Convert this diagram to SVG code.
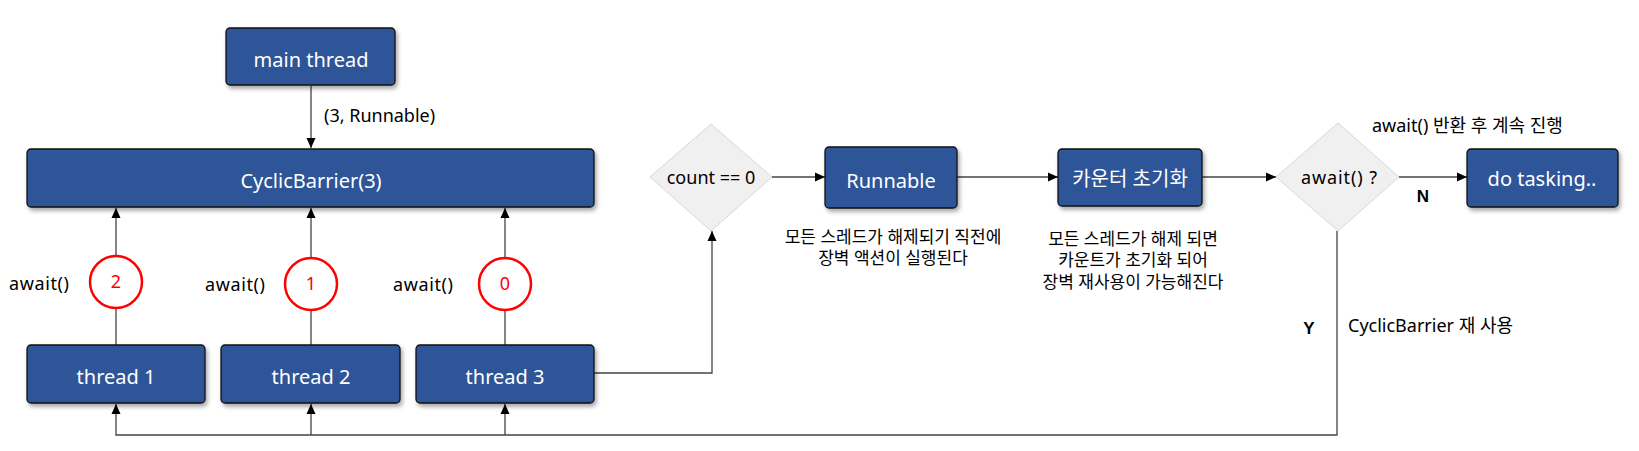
<svg xmlns="http://www.w3.org/2000/svg" width="1639" height="451" viewBox="0 0 1639 451">
<defs>
<marker id="arrow" markerUnits="userSpaceOnUse" markerWidth="10" markerHeight="10" refX="10" refY="5" orient="auto">
<path d="M0,0.5 L10,5 L0,9.5 z" fill="#000"/>
</marker>
<filter id="shadow" x="-10%" y="-20%" width="130%" height="160%">
<feDropShadow dx="2" dy="3" stdDeviation="2" flood-color="#000" flood-opacity="0.35"/>
</filter>
<style>
.box{fill:#2f5597;stroke:#111;stroke-width:1.3;filter:url(#shadow)}
.bt{font-family:"Noto Sans","Noto Sans CJK KR",sans-serif;font-size:20px;fill:#fff;text-anchor:middle}
.dia{fill:#f0f0f0;stroke:#d8d8d8;stroke-width:1}
.lbl{font-family:"Noto Sans","Noto Sans CJK KR",sans-serif;font-size:18px;fill:#000}
.kr{font-family:"Noto Sans","Noto Sans CJK KR",sans-serif;font-size:17px;fill:#000;text-anchor:middle}
.yn{font-family:"Liberation Sans",sans-serif;font-size:17px;font-weight:bold;fill:#000;text-anchor:middle}
.cnt{fill:#fff;stroke:#f00;stroke-width:2.5}
.ct{font-family:"Noto Sans",sans-serif;font-size:18px;fill:#f00;text-anchor:middle}
.la{fill:none;stroke:#444;stroke-width:1.3;marker-end:url(#arrow)}
</style>
</defs>
<rect width="1639" height="451" fill="#fff"/>

<g id="connectors">
<line class="la" x1="311" y1="86" x2="311" y2="148"/>
<line class="la" x1="116" y1="345" x2="116" y2="208"/>
<line class="la" x1="311" y1="345" x2="311" y2="208"/>
<line class="la" x1="505" y1="345" x2="505" y2="208"/>
<path class="la" d="M594,373 H712 V231"/>
<line class="la" x1="772" y1="177" x2="825" y2="177"/>
<line class="la" x1="957" y1="177" x2="1058" y2="177"/>
<line class="la" x1="1202" y1="177" x2="1276" y2="177"/>
<line class="la" x1="1399" y1="177" x2="1467" y2="177"/>
<path class="la" d="M1337,231 V435 H116 V404"/>
<line class="la" x1="311" y1="435" x2="311" y2="404"/>
<line class="la" x1="505" y1="435" x2="505" y2="404"/>
</g>

<g id="main-thread">
<rect class="box" x="226" y="28" width="169" height="57" rx="4"/>
<text class="bt" x="311" y="67">main thread</text>
</g>
<text class="lbl" x="324" y="122" font-size="19">(3, Runnable)</text>

<g id="cyclic-barrier">
<rect class="box" x="27" y="149" width="567" height="58" rx="4"/>
<text class="bt" x="311" y="188">CyclicBarrier(3)</text>
</g>

<g id="count-2">
<circle class="cnt" cx="116" cy="282" r="26"/>
<text class="ct" x="116" y="288">2</text>
</g>
<g id="count-1">
<circle class="cnt" cx="311" cy="284" r="26"/>
<text class="ct" x="311" y="290">1</text>
</g>
<g id="count-0">
<circle class="cnt" cx="505" cy="284" r="26"/>
<text class="ct" x="505" y="290">0</text>
</g>
<text class="lbl" x="9" y="290" font-size="19" textLength="60" lengthAdjust="spacing">await()</text>
<text class="lbl" x="205" y="291" font-size="19" textLength="60" lengthAdjust="spacing">await()</text>
<text class="lbl" x="393" y="291" font-size="19" textLength="60" lengthAdjust="spacing">await()</text>

<g id="thread-1">
<rect class="box" x="27" y="345" width="178" height="58" rx="4"/>
<text class="bt" x="116" y="384">thread 1</text>
</g>
<g id="thread-2">
<rect class="box" x="221" y="345" width="179" height="58" rx="4"/>
<text class="bt" x="311" y="384">thread 2</text>
</g>
<g id="thread-3">
<rect class="box" x="416" y="345" width="178" height="58" rx="4"/>
<text class="bt" x="505" y="384">thread 3</text>
</g>

<g id="count-check">
<polygon class="dia" points="711,124 772,177 711,231 650,177"/>
<text class="lbl" x="711" y="184" font-size="19" text-anchor="middle">count == 0</text>
</g>

<g id="runnable">
<rect class="box" x="825" y="147" width="132" height="61" rx="4"/>
<text class="bt" x="891" y="188">Runnable</text>
</g>
<text class="kr" x="893" y="243">모든 스레드가 해제되기 직전에</text>
<text class="kr" x="893" y="264">장벽 액션이 실행된다</text>

<g id="counter-reset">
<rect class="box" x="1058" y="149" width="144" height="57" rx="4"/>
<text class="bt" x="1130" y="186" font-size="18">카운터 초기화</text>
</g>
<text class="kr" x="1133" y="245">모든 스레드가 해제 되면</text>
<text class="kr" x="1133" y="266">카운트가 초기화 되어</text>
<text class="kr" x="1133" y="288">장벽 재사용이 가능해진다</text>

<g id="await-check">
<polygon class="dia" points="1338,123 1399,177 1338,231 1276,177"/>
<text class="lbl" x="1339" y="184" font-size="19" text-anchor="middle" textLength="76" lengthAdjust="spacing">await() ?</text>
</g>

<g id="do-tasking">
<rect class="box" x="1467" y="149" width="151" height="58" rx="4"/>
<text class="bt" x="1542" y="186">do tasking..</text>
</g>
<text class="lbl" x="1372" y="132" font-size="17.5">await() 반환 후 계속 진행</text>
<text class="yn" x="1423" y="202">N</text>
<text class="yn" x="1309" y="334">Y</text>
<text class="lbl" x="1348" y="332" font-size="17.5">CyclicBarrier 재 사용</text>
</svg>
